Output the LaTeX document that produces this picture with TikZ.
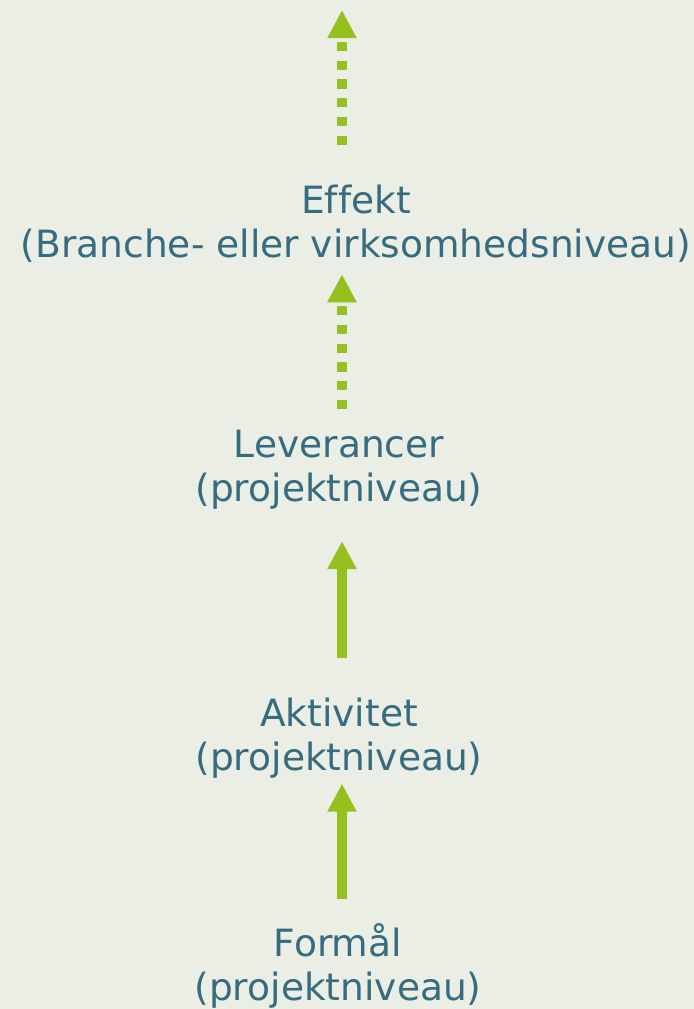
\documentclass[tikz,border=0pt]{standalone}
\usepackage{fontspec}
\setmainfont{DejaVu Sans}[Ligatures=NoCommon]
\usetikzlibrary{arrows.meta}
\definecolor{bgcol}{RGB}{235,238,229}
\definecolor{txtcol}{RGB}{54,108,128}
\definecolor{arrcol}{RGB}{149,193,31}
\tikzset{
	level/.style={text=txtcol,align=center,inner sep=0pt,font=\fontsize{26.7pt}{31.5pt}\selectfont},
	uparrow/.style={draw=arrcol,line width=7.4pt,-{Triangle[width=19.5pt,length=20pt]}},
	dotarrow/.style={uparrow,line width=6.6pt,dash pattern=on 6.6pt off 6.7pt},
}
\begin{document}
\begin{tikzpicture}[x=0.025cm,y=-0.025cm]
		\fill[bgcol] (0,0) rectangle (694,1009);
		\useasboundingbox (0,0) rectangle (694,1009);
		
		\node[level] (effekt) at (356,224) {Effekt\\(Branche- eller virksomhedsniveau)};
		\node[level] (leverancer) at (339,470) {Leverancer\\(projektniveau)};
		\node[level] (aktivitet) at (339,738) {Aktivitet\\(projektniveau)};
		\node[level] (formaal) at (338,966) {Formål\\(projektniveau)};
		\coordinate (top) at (342,10);
		
		\draw[uparrow,shorten <=0.6cm,shorten >=0.125cm] (formaal.north -| top) to (aktivitet.south -| top);
		\draw[uparrow,shorten <=0.975cm,shorten >=0.775cm] (aktivitet.north -| top) to (leverancer.south -| top);
		%\draw[uparrow] (leverancer.north) to (effekt.south);
		\draw[dotarrow,shorten <=0.525cm,shorten >=0.275cm] (leverancer.north -| top) to (effekt.south -| top);
		\draw[dotarrow,shorten <=1cm] (effekt.north -| top) to (top);
	\end{tikzpicture}
\end{document}
